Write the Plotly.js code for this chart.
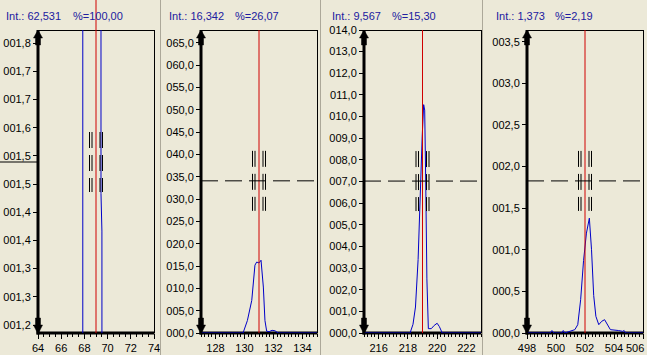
<!DOCTYPE html>
<html><head><meta charset="utf-8">
<script src="https://cdn.plot.ly/plotly-3.0.1.min.js"></script>
<style>html,body{margin:0;padding:0;background:#ECE9D8;}</style>
</head><body><div id="chart" style="width:647px;height:355px;"></div>
<script>
// ---- data ----
const intLabels = ["Int.: 62,531", "Int.: 16,342", "Int.: 9,567", "Int.: 1,373"];
const pctLabels = ["%=100,00", "%=26,07", "%=15,30", "%=2,19"];

const p1x = [64, 67.86, 67.88, 68.5, 69.0, 69.43, 69.43, 69.51, 69.52, 74];
const p1y = [0, 0, 30, 58, 62.53, 40, 1.48, 1.40, 0, 0];

const p2x = [127, 129.9, 130.2, 130.5, 130.72, 130.84, 131.0, 131.14, 131.3, 131.41, 131.53, 131.7, 131.9, 132.1, 132.33, 135];
const p2y = [0, 0, 2.8, 7.3, 15.2, 15.9, 15.7, 16.3, 10.3, 2.8, 0.4, 0.3, 0.6, 0.5, 0, 0];

const p3x = [215, 218.15, 218.35, 218.52, 218.7, 218.82, 218.92, 218.98, 219.08, 219.15, 219.22, 219.3, 219.4, 219.6, 219.8, 220.0, 220.15, 220.35, 223];
const p3y = [0, 0, 0.4, 1.2, 3.4, 6.0, 8.5, 9.1, 10.55, 10.3, 7.0, 2.5, 0.2, 0.2, 0.35, 0.45, 0.3, 0, 0];

const p4x = [498, 499.6, 499.72, 499.85, 500.4, 500.5, 500.6, 501.0, 501.3, 501.5, 501.7, 501.9, 502.1, 502.3, 502.45, 502.6, 502.75, 502.95, 503.15, 503.35, 503.55, 503.75, 504.3, 504.6, 504.7, 504.8, 506];
const p4y = [0, 0, 0.03, 0, 0, 0.03, 0, 0.02, 0.04, 0.1, 0.4, 0.87, 1.2, 1.38, 1.0, 0.45, 0.2, 0.1, 0.14, 0.16, 0.1, 0.04, 0.03, 0.02, 0.03, 0, 0];

const xRanges = [[64, 74], [127, 135], [215, 223], [498, 506]];
const xTickVals = [[64, 66, 68, 70, 72, 74], [128, 130, 132, 134], [216, 218, 220, 222], [498, 500, 502, 504, 506]];
const xMinor = [0.5, 0.25, 0.25, 0.25];

const yRanges = [[1.183, 1.828], [0, 67.9], [0, 14], [0, 3.64]];
const y1Vals = [1.2, 1.26, 1.32, 1.38, 1.44, 1.5, 1.56, 1.62, 1.68, 1.74, 1.8];
const y1Text = ["001,2", "001,3", "001,3", "001,4", "001,4", "001,5", "001,5", "001,6", "001,7", "001,7", "001,8"];
const y2Vals = [0, 5, 10, 15, 20, 25, 30, 35, 40, 45, 50, 55, 60, 65];
const y2Text = ["000,0", "005,0", "010,0", "015,0", "020,0", "025,0", "030,0", "035,0", "040,0", "045,0", "050,0", "055,0", "060,0", "065,0"];
const y3Vals = [0, 1, 2, 3, 4, 5, 6, 7, 8, 9, 10, 11, 12, 13, 14];
const y3Text = ["000,0", "001,0", "002,0", "003,0", "004,0", "005,0", "006,0", "007,0", "008,0", "009,0", "010,0", "011,0", "012,0", "013,0", "014,0"];
const y4Vals = [0, 0.5, 1, 1.5, 2, 2.5, 3, 3.5];
const y4Text = ["000,0", "000,5", "001,0", "001,5", "002,0", "002,5", "003,0", "003,5"];

const markerX = [69.0, 131.0, 219.0, 502.0];
const crossY = [1.547, 34.1, 7.02, 1.827];

// ---- layout helpers ----
const W = 647, H = 355;
const px = x => x / W, py = y => 1 - y / H;
const axL = [38, 201, 364, 527], axR = [154, 317, 481, 643];
const TOP = 30, BOT = 333;
const titleX1 = [4, 167, 330, 494], titleX2 = [71, 233, 390, 553];
const BLUE = '#0000c8', RED = '#d00000';
const FONT = 'Liberation Sans, Arial, sans-serif';

const xs = [p1x, p2x, p3x, p4x], ysd = [p1y, p2y, p3y, p4y];
const yVals = [y1Vals, y2Vals, y3Vals, y4Vals], yText = [y1Text, y2Text, y3Text, y4Text];

const traces = [];
const layout = {
  width: W, height: H, margin: {l: 0, r: 0, t: 0, b: 0},
  paper_bgcolor: '#ECE9D8', plot_bgcolor: 'rgba(0,0,0,0)',
  showlegend: false, shapes: [], annotations: [],
  font: {family: FONT, size: 11, color: '#000'}
};

for (let i = 0; i < 4; i++) {
  const s = i === 0 ? '' : String(i + 1);
  traces.push({x: xs[i], y: ysd[i], xaxis: 'x' + s, yaxis: 'y' + s, type: 'scatter', mode: 'lines',
    line: {color: BLUE, width: 1}, hoverinfo: 'skip'});
  layout['xaxis' + s] = {
    domain: [px(axL[i]), px(axR[i])], range: xRanges[i], anchor: 'y' + s,
    tickmode: 'array', tickvals: xTickVals[i], ticktext: xTickVals[i].map(String),
    ticks: 'outside', ticklen: 5, tickwidth: 1, tickcolor: '#000',
    minor: {dtick: xMinor[i], tick0: 0, ticks: 'outside', ticklen: 3, tickwidth: 1, tickcolor: '#000', showgrid: false},
    showgrid: false, zeroline: false, showline: false, fixedrange: true,
    tickfont: {family: FONT, size: 11, color: '#000'}
  };
  layout['yaxis' + s] = {
    domain: [py(BOT), py(TOP)], range: yRanges[i], anchor: 'x' + s,
    tickmode: 'array', tickvals: yVals[i], ticktext: yText[i],
    ticks: 'outside', ticklen: 4, tickwidth: 1, tickcolor: '#000',
    showgrid: false, zeroline: false, showline: false, fixedrange: true,
    tickfont: {family: FONT, size: 11, color: '#000'}
  };
  const L = axL[i], R = axR[i];
  // axis lines (thick) and box (thin)
  layout.shapes.push({type: 'line', xref: 'paper', yref: 'paper', x0: px(L), x1: px(L), y0: py(TOP), y1: py(BOT + 1.5), line: {color: '#000', width: 3}, layer: 'below'});
  layout.shapes.push({type: 'line', xref: 'paper', yref: 'paper', x0: px(L - 1.5), x1: px(R + 0.5), y0: py(BOT), y1: py(BOT), line: {color: '#000', width: 3}, layer: 'below'});
  layout.shapes.push({type: 'line', xref: 'paper', yref: 'paper', x0: px(L), x1: px(R), y0: py(TOP + 0.5), y1: py(TOP + 0.5), line: {color: '#000', width: 1}, layer: 'below'});
  layout.shapes.push({type: 'line', xref: 'paper', yref: 'paper', x0: px(R + 0.5), x1: px(R + 0.5), y0: py(TOP), y1: py(BOT), line: {color: '#000', width: 1}, layer: 'below'});
  // arrowheads
  const P = (x, y) => px(x) + ',' + py(y);
  layout.shapes.push({type: 'path', xref: 'paper', yref: 'paper', fillcolor: '#000', line: {color: '#000', width: 0.5},
    path: 'M' + P(L, TOP) + ' L' + P(L - 4.5, TOP + 8) + ' L' + P(L - 2.5, TOP + 8) + ' L' + P(L - 2.5, TOP + 15) + ' L' + P(L + 2.5, TOP + 15) + ' L' + P(L + 2.5, TOP + 8) + ' L' + P(L + 4.5, TOP + 8) + ' Z'});
  layout.shapes.push({type: 'path', xref: 'paper', yref: 'paper', fillcolor: '#000', line: {color: '#000', width: 0.5},
    path: 'M' + P(L, BOT + 1) + ' L' + P(L - 4.5, BOT - 8) + ' L' + P(L - 2.5, BOT - 8) + ' L' + P(L - 2.5, BOT - 15) + ' L' + P(L + 2.5, BOT - 15) + ' L' + P(L + 2.5, BOT - 8) + ' L' + P(L + 4.5, BOT - 8) + ' Z'});
  // red marker line
  layout.shapes.push({type: 'line', xref: 'x' + s, yref: 'paper', x0: markerX[i], x1: markerX[i],
    y0: py(i === 0 ? 0 : TOP), y1: py(BOT), line: {color: RED, width: 1}});
  // crosshair
  const pxPerUnit = (R - L) / (xRanges[i][1] - xRanges[i][0]);
  const yr = yRanges[i];
  const cy = BOT - (crossY[i] - yr[0]) / (yr[1] - yr[0]) * (BOT - TOP);
  if (i === 0) {
    layout.shapes.push({type: 'line', xref: 'paper', yref: 'paper', x0: 0, x1: px(L), y0: py(cy), y1: py(cy), line: {color: '#000', width: 1}});
  } else {
    layout.shapes.push({type: 'line', xref: 'paper', yref: 'paper', x0: px(L), x1: px(R), y0: py(cy), y1: py(cy), line: {color: '#000', width: 1, dash: '17px,7px'}});
  }
  [-6.5, -4, 4, 6.5].forEach(o => {
    const xv = markerX[i] + o / pxPerUnit;
    layout.shapes.push({type: 'line', xref: 'x' + s, yref: 'paper', x0: xv, x1: xv, y0: py(cy - 30), y1: py(cy + 30),
      line: {color: '#000', width: 1, dash: '16px,7px'}});
  });
  // titles
  layout.annotations.push({xref: 'paper', yref: 'paper', x: px(titleX1[i]), y: py(16), xanchor: 'left', yanchor: 'middle',
    text: intLabels[i], showarrow: false, font: {family: FONT, size: 11, color: '#2020a0'}});
  layout.annotations.push({xref: 'paper', yref: 'paper', x: px(titleX2[i]), y: py(16), xanchor: 'left', yanchor: 'middle',
    text: pctLabels[i], showarrow: false, font: {family: FONT, size: 11, color: '#2020a0'}});
}
// last x tick label of panel 4, kept inside the window edge
layout.annotations.push({xref: 'paper', yref: 'paper', x: px(646), y: py(348), xanchor: 'right', yanchor: 'middle',
  text: String(xTickVals[3][xTickVals[3].length - 1]), showarrow: false, font: {family: FONT, size: 11, color: '#000'}});
// panel separators
[160.5, 320.5, 482.5].forEach(x => {
  layout.shapes.push({type: 'line', xref: 'paper', yref: 'paper', x0: px(x), x1: px(x), y0: 0, y1: 1, line: {color: '#aca899', width: 1}});
});

Plotly.newPlot('chart', traces, layout, {staticPlot: true, displayModeBar: false});
</script></body></html>
